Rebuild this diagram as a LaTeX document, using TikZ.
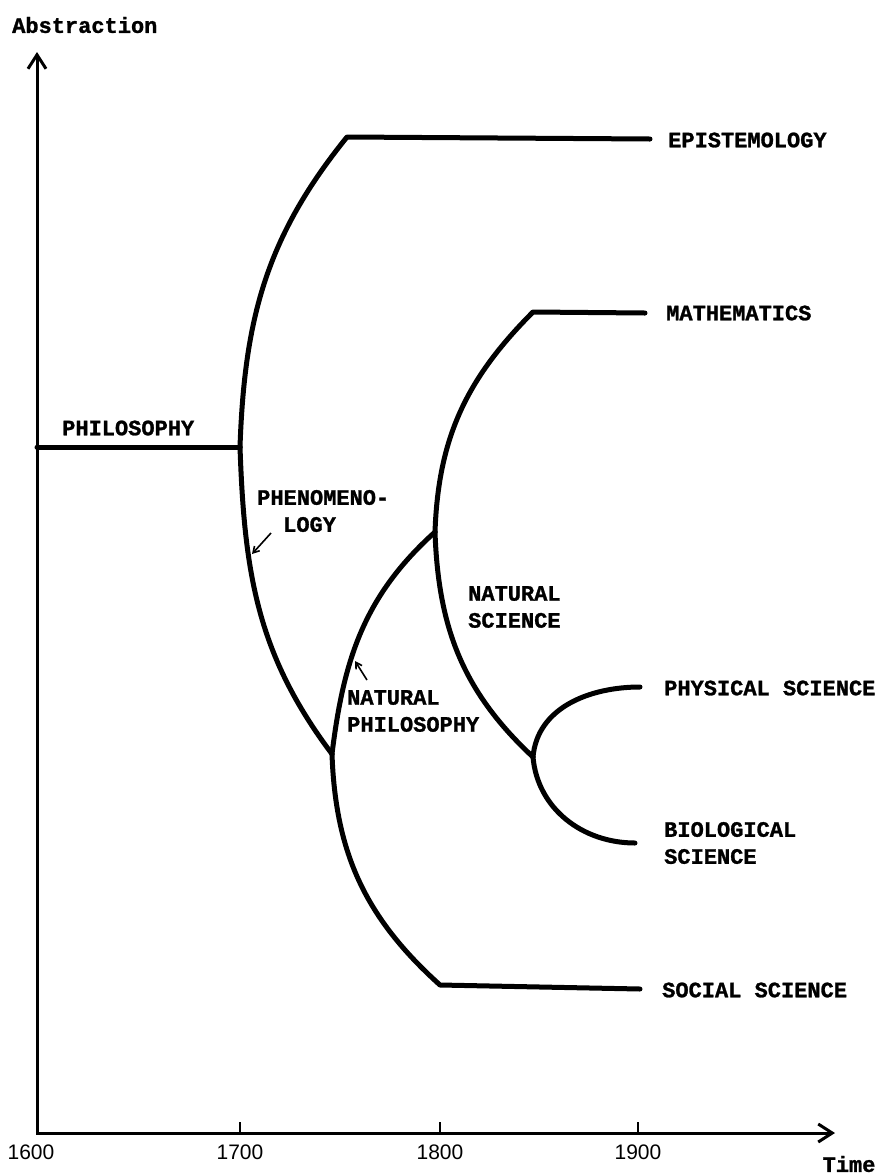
\documentclass[tikz,border=0pt]{standalone}
\usepackage{fontspec}
\newfontfamily\tw{Liberation Mono}[BoldFeatures={FakeBold=1.2}]
\newfontfamily\nf{Liberation Sans}
\usetikzlibrary{arrows.meta}
\begin{document}
\begin{tikzpicture}[x=1pt,y=1pt,
  branch/.style={line width=5pt, line cap=round, line join=round},
  axisline/.style={line width=3pt, {Straight Barb[length=14pt,width=18pt,line width=3pt]}-{Straight Barb[length=14pt,width=18pt,line width=3pt]}},
  lbl/.style={font=\tw\bfseries\fontsize{22}{27}\selectfont, anchor=west, inner sep=0pt, align=left},
  yr/.style={font=\nf\fontsize{21}{24}\selectfont, inner sep=0pt},
  tickline/.style={line width=2pt},
  ptr/.style={line width=1.6pt, -{Straight Barb[length=6pt,width=7pt,line width=1.6pt]}},
]
\useasboundingbox (0,-1176) rectangle (878,0);
\fill[white] (0,-1176) rectangle (878,0);

% axes
\coordinate (O) at (37,-1133);
\coordinate (ytip) at (37,-52);
\coordinate (xtip) at (835,-1133);
\draw[axisline] (ytip) -- (O) -- (xtip);
\node[lbl] (abs) at (12,-25) {Abstraction};
\node[lbl, anchor=center] (time) at (849,-1164) {Time};

% ticks
\coordinate (t17) at (240,-1133);
\coordinate (t18) at (440,-1133);
\coordinate (t19) at (638,-1133);
\draw[tickline] (t17) -- ++(0,11);
\draw[tickline] (t18) -- ++(0,11);
\draw[tickline] (t19) -- ++(0,11);
\node[yr] (y16) at (31,-1152) {1600};
\node[yr] (y17) at (240,-1152) {1700};
\node[yr] (y18) at (440,-1152) {1800};
\node[yr] (y19) at (638,-1152) {1900};

% junctions
\coordinate (P0) at (37,-447);
\coordinate (A) at (240,-447);
\coordinate (E1) at (347,-137);
\coordinate (E2) at (650,-139);
\coordinate (B) at (332,-754);
\coordinate (C) at (435,-532);
\coordinate (M1) at (533,-312);
\coordinate (M2) at (645,-313);
\coordinate (S1) at (440,-985);
\coordinate (S2) at (640,-989);
\coordinate (D) at (533,-757);
\coordinate (P) at (640,-687);
\coordinate (Bi) at (635,-843);

\draw[branch] (P0) -- (A);
\draw[branch] (A) to[out=88,in=231] (E1) -- (E2);
\draw[branch] (A) to[out=-88,in=127] (B);
\draw[branch] (B) to[out=83,in=222] (C);
\draw[branch] (B) to[out=-88,in=138] (S1) -- (S2);
\draw[branch] (C) to[out=88,in=225] (M1) -- (M2);
\draw[branch] (C) to[out=-88,in=137] (D);
\draw[branch] (D) to[out=85,in=180] (P);
\draw[branch] (D) to[out=-85,in=180] (Bi);

% labels
\node[lbl] (phil) at (62,-428) {PHILOSOPHY};
\node[lbl] (epi) at (668,-140) {EPISTEMOLOGY};
\node[lbl] (math) at (666,-313) {MATHEMATICS};
\node[lbl] (phys) at (664,-688) {PHYSICAL SCIENCE};
\node[lbl] (bio) at (664,-843) {BIOLOGICAL\\SCIENCE};
\node[lbl] (soc) at (662,-990) {SOCIAL SCIENCE};
\node[lbl] (phen) at (257,-511) {PHENOMENO-\\\hspace*{26pt}LOGY};
\node[lbl] (natsci) at (468,-607) {NATURAL\\SCIENCE};
\node[lbl] (natphil) at (347,-711) {NATURAL\\PHILOSOPHY};

% pointers
\coordinate (pa1) at (271,-533);
\coordinate (pa2) at (252,-554);
\coordinate (pb1) at (367,-680);
\coordinate (pb2) at (355,-661);
\draw[ptr] (pa1) -- (pa2);
\draw[ptr] (pb1) -- (pb2);
\end{tikzpicture}
\end{document}
